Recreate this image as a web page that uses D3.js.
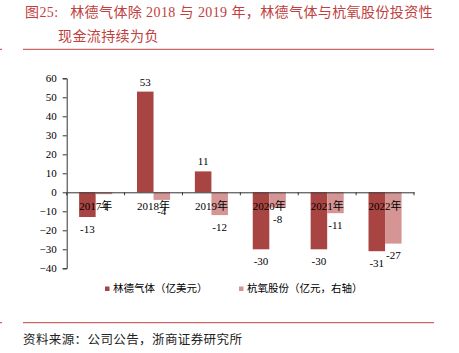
<!DOCTYPE html>
<html><head><meta charset="utf-8">
<script src="https://cdn.jsdelivr.net/npm/d3@7/dist/d3.min.js"></script>
<style>
html,body{margin:0;padding:0;background:#fff;}
svg{display:block;}
</style></head>
<body>
<svg id="c" width="459" height="353"></svg>
<script>
const categories = ["2017年","2018年","2019年","2020年","2021年","2022年"];
const seriesNames = ["林德气体（亿美元）","杭氧股份（亿元，右轴）"];
const lindeValues = [-13, 53, 11, -30, -30, -31];
const hangyangValues = [-1, -4, -12, -8, -11, -27];
const yTicks = [60, 50, 40, 30, 20, 10, 0, -10, -20, -30, -40];
const titleLine1 = "图25:   林德气体除 2018 与 2019 年，林德气体与杭氧股份投资性";
const titleLine2 = "现金流持续为负";
const sourceText = "资料来源：公司公告，浙商证券研究所";

const colors = ["#a84543", "#d59595"];
const red = "#c0403e";
const serif = "'Liberation Serif','Times New Roman','Noto Sans CJK SC',serif";
const cjk = "'Noto Sans CJK SC','Noto Sans',sans-serif";

const svg = d3.select("#c");

// Title
svg.append("text").attr("x", 25).attr("y", 16.5).attr("fill", red)
  .attr("font-family", serif).attr("font-size", 14).attr("letter-spacing", 0.4)
  .attr("xml:space","preserve").text(titleLine1);
svg.append("text").attr("x", 58).attr("y", 41).attr("fill", red)
  .attr("font-family", serif).attr("font-size", 14).attr("letter-spacing", 0.4).text(titleLine2);
svg.append("line").attr("x1", 23).attr("x2", 434).attr("y1", 49.3).attr("y2", 49.3).attr("stroke", red).attr("stroke-width", 1);
svg.append("line").attr("x1", 0).attr("x2", 2).attr("y1", 49.3).attr("y2", 49.3).attr("stroke", red).attr("stroke-width", 1);

// Scales
const y = d3.scaleLinear().domain([-40, 60]).range([268.3, 78.3]);
const x = d3.scaleBand().domain(categories).range([66.7, 414]).paddingInner(0).paddingOuter(0);
const xs = d3.scaleBand().domain([0, 1]).range([0, x.bandwidth()]).paddingInner(0).paddingOuter(0.75);

// Bars
const data = categories.map((c, i) => ({c, vals: [lindeValues[i], hangyangValues[i]]}));
const g = svg.append("g");
data.forEach(d => {
  d.vals.forEach((v, s) => {
    g.append("rect")
      .attr("x", x(d.c) + xs(s))
      .attr("width", xs.bandwidth())
      .attr("y", y(Math.max(0, v)))
      .attr("height", Math.abs(y(v) - y(0)))
      .attr("fill", colors[s]);
  });
});

// Y axis
const yAxis = d3.axisLeft(y).tickValues(yTicks).tickSize(4).tickPadding(6).tickFormat(d3.format("d"));
const ya = svg.append("g").attr("transform", "translate(66.7,0)").call(yAxis);
ya.select(".domain").attr("stroke", "#333");
ya.selectAll(".tick line").attr("stroke", "#333");
ya.selectAll("text").attr("font-family", serif).attr("font-size", 11).attr("fill", "#000");

// X axis at zero
const xAxis = d3.axisBottom(x).tickSize(0).tickFormat(() => "");
const xa = svg.append("g").attr("transform", `translate(0,${y(0)})`).call(xAxis);
xa.select(".domain").attr("stroke", "#333");
const bounds = categories.map(c => x(c)).concat([x.range()[1]]);
xa.selectAll(".btick").data(bounds).enter().append("line").attr("class","btick")
  .attr("x1", d => d).attr("x2", d => d).attr("y1", 0).attr("y2", 3).attr("stroke", "#333");

// Category labels
svg.append("g").selectAll("text").data(categories).enter().append("text")
  .attr("x", d => x(d) + x.bandwidth() / 2).attr("y", y(0) + 18)
  .attr("text-anchor", "middle").attr("font-family", serif).attr("font-size", 11).attr("fill", "#000")
  .text(d => d);

// Data labels
data.forEach(d => {
  d.vals.forEach((v, s) => {
    svg.append("text")
      .attr("x", x(d.c) + xs(s) + xs.bandwidth() / 2)
      .attr("y", v >= 0 ? y(v) - 6 : y(v) + 15.5)
      .attr("text-anchor", "middle").attr("font-family", serif).attr("font-size", 11).attr("fill", "#000")
      .text(v);
  });
});

// Legend
const legX = [105, 239];
seriesNames.forEach((n, i) => {
  svg.append("rect").attr("x", legX[i]).attr("y", 286.5).attr("width", 4.5).attr("height", 4.5).attr("fill", colors[i]);
  svg.append("text").attr("x", legX[i] + 8).attr("y", 292).attr("font-family", cjk).attr("font-size", 10.5).attr("fill", "#000").text(n);
});

// Footer
svg.append("line").attr("x1", 23).attr("x2", 434).attr("y1", 322.7).attr("y2", 322.7).attr("stroke", red).attr("stroke-width", 1);
svg.append("line").attr("x1", 0).attr("x2", 2).attr("y1", 322.7).attr("y2", 322.7).attr("stroke", red).attr("stroke-width", 1);
svg.append("text").attr("x", 23).attr("y", 344).attr("font-family", serif).attr("font-size", 12.5).attr("letter-spacing", 0.4).attr("fill", "#222").text(sourceText);
</script>
</body></html>
